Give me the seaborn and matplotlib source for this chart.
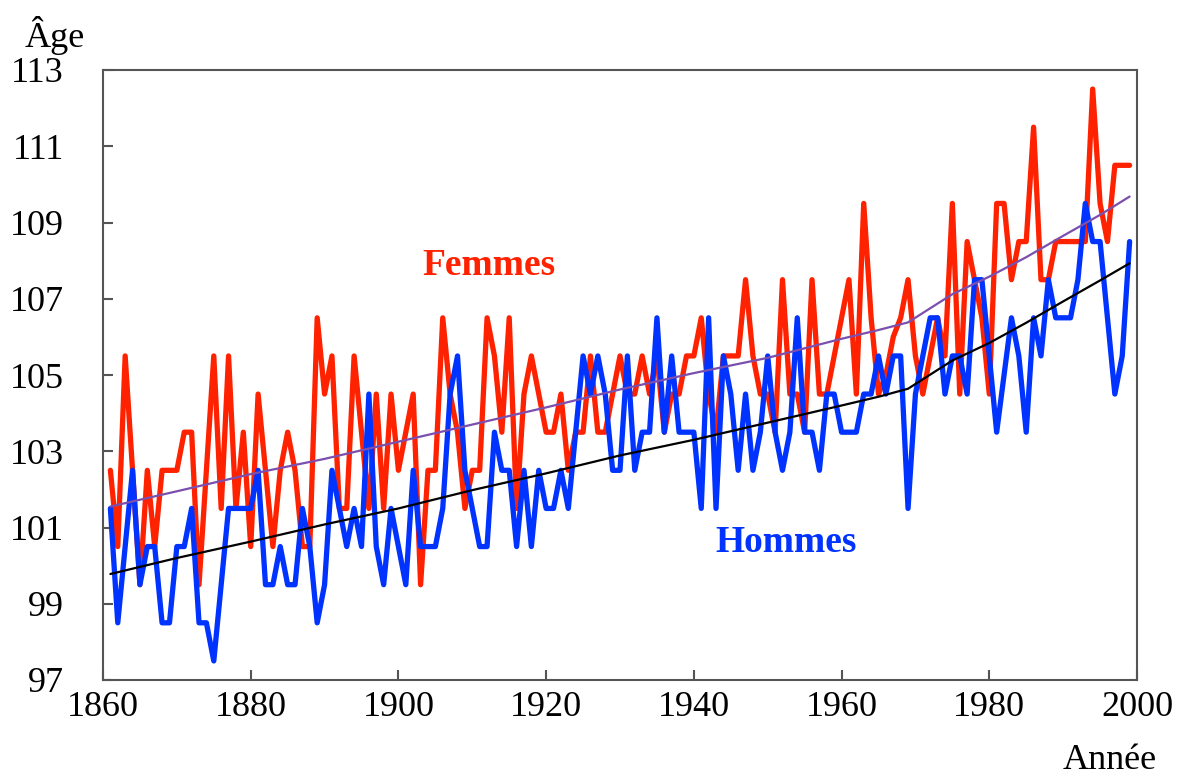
import matplotlib
matplotlib.use("Agg")
import matplotlib.pyplot as plt
import seaborn as sns

# ---------------- data ----------------
years = list(range(1861, 2000))

femmes = [
    102.5, 100.5, 105.5, 102.5, 99.5, 102.5, 100.5, 102.5, 102.5, 102.5,   # 1861-1870
    103.5, 103.5, 99.5, 102.5, 105.5, 101.5, 105.5, 101.5, 103.5, 100.5,   # 1871-1880
    104.5, 102.5, 100.5, 102.5, 103.5, 102.5, 100.5, 100.5, 106.5, 104.5,  # 1881-1890
    105.5, 101.5, 101.5, 105.5, 103.5, 101.5, 104.5, 101.5, 104.5, 102.5,  # 1891-1900
    103.5, 104.5, 99.5, 102.5, 102.5, 106.5, 104.5, 103.5, 101.5, 102.5,   # 1901-1910
    102.5, 106.5, 105.5, 103.5, 106.5, 101.5, 104.5, 105.5, 104.5, 103.5,  # 1911-1920
    103.5, 104.5, 102.5, 103.5, 103.5, 105.5, 103.5, 103.5, 104.5, 105.5,  # 1921-1930
    104.5, 104.5, 105.5, 104.5, 105.5, 103.5, 104.5, 104.5, 105.5, 105.5,  # 1931-1940
    106.5, 104.5, 103.5, 105.5, 105.5, 105.5, 107.5, 105.5, 104.5, 104.5,  # 1941-1950
    103.5, 107.5, 104.5, 104.5, 103.5, 107.5, 104.5, 104.5, 105.5, 106.5,  # 1951-1960
    107.5, 104.5, 109.5, 106.5, 104.5, 105.0, 106.0, 106.5, 107.5, 105.5,  # 1961-1970
    104.5, 105.5, 106.5, 105.5, 109.5, 104.5, 108.5, 107.5, 106.5, 104.5,  # 1971-1980
    109.5, 109.5, 107.5, 108.5, 108.5, 111.5, 107.5, 107.5, 108.5, 108.5,  # 1981-1990
    108.5, 108.5, 108.5, 112.5, 109.5, 108.5, 110.5, 110.5, 110.5,         # 1991-1999
]

hommes = [
    101.5, 98.5, 100.5, 102.5, 99.5, 100.5, 100.5, 98.5, 98.5, 100.5,      # 1861-1870
    100.5, 101.5, 98.5, 98.5, 97.5, 99.5, 101.5, 101.5, 101.5, 101.5,      # 1871-1880
    102.5, 99.5, 99.5, 100.5, 99.5, 99.5, 101.5, 100.5, 98.5, 99.5,        # 1881-1890
    102.5, 101.5, 100.5, 101.5, 100.5, 104.5, 100.5, 99.5, 101.5, 100.5,   # 1891-1900
    99.5, 102.5, 100.5, 100.5, 100.5, 101.5, 104.5, 105.5, 102.5, 101.5,   # 1901-1910
    100.5, 100.5, 103.5, 102.5, 102.5, 100.5, 102.5, 100.5, 102.5, 101.5,  # 1911-1920
    101.5, 102.5, 101.5, 103.5, 105.5, 104.5, 105.5, 104.5, 102.5, 102.5,  # 1921-1930
    105.5, 102.5, 103.5, 103.5, 106.5, 103.5, 105.5, 103.5, 103.5, 103.5,  # 1931-1940
    101.5, 106.5, 101.5, 105.5, 104.5, 102.5, 104.5, 102.5, 103.5, 105.5,  # 1941-1950
    103.5, 102.5, 103.5, 106.5, 103.5, 103.5, 102.5, 104.5, 104.5, 103.5,  # 1951-1960
    103.5, 103.5, 104.5, 104.5, 105.5, 104.5, 105.5, 105.5, 101.5, 104.5,  # 1961-1970
    105.5, 106.5, 106.5, 104.5, 105.5, 105.5, 104.5, 107.5, 107.5, 105.5,  # 1971-1980
    103.5, 105.0, 106.5, 105.5, 103.5, 106.5, 105.5, 107.5, 106.5, 106.5,  # 1981-1990
    106.5, 107.5, 109.5, 108.5, 108.5, 106.5, 104.5, 105.5, 108.5,         # 1991-1999
]

trend_years = [1861, 1870, 1880, 1890, 1900, 1910, 1920, 1930, 1940, 1950,
               1960, 1965, 1969, 1975, 1980, 1985, 1990, 1995, 1999]
femmes_trend = [101.55, 101.95, 102.40, 102.80, 103.25, 103.70, 104.15, 104.62, 105.05, 105.45,
                105.95, 106.18, 106.38, 107.12, 107.58, 108.09, 108.65, 109.20, 109.68]
hommes_trend = [99.78, 100.20, 100.63, 101.08, 101.50, 101.98, 102.42, 102.89, 103.30, 103.75,
                104.20, 104.43, 104.64, 105.38, 105.84, 106.37, 106.93, 107.48, 107.93]

x_ticks = [1860, 1880, 1900, 1920, 1940, 1960, 1980, 2000]
y_ticks = [97, 99, 101, 103, 105, 107, 109, 111, 113]

RED = "#FF2200"
BLUE = "#0033FF"
PURPLE = "#7B4FAE"
SPINE = "#555555"

# ---------------- style ----------------
sns.set_style("white")
plt.rcParams["font.family"] = ["Liberation Serif", "DejaVu Serif"]
plt.rcParams["text.color"] = "black"

W, H = 1184, 780
fig = plt.figure(figsize=(W / 100, H / 100), dpi=100)
ax = fig.add_axes([103 / W, 1 - 680 / H, (1137 - 103) / W, (680 - 70) / H])

sns.lineplot(x=years, y=femmes, color=RED, linewidth=3.8, ax=ax, zorder=2)
sns.lineplot(x=years, y=hommes, color=BLUE, linewidth=3.8, ax=ax, zorder=3)
sns.lineplot(x=trend_years, y=femmes_trend, color=PURPLE, linewidth=1.6, ax=ax, zorder=4)
sns.lineplot(x=trend_years, y=hommes_trend, color="black", linewidth=1.6, ax=ax, zorder=5)

ax.set_xlim(1860, 2000)
ax.set_ylim(97, 113)
ax.set_xticks(x_ticks)
ax.set_yticks(y_ticks)
ax.set_xlabel("")
ax.set_ylabel("")

for s in ax.spines.values():
    s.set_visible(True)
    s.set_color(SPINE)
    s.set_linewidth(1.5)

ax.tick_params(axis="y", direction="in", length=7, width=1.5, color=SPINE,
               labelcolor="black", labelsize=26, pad=28, left=True)
ax.tick_params(axis="x", direction="in", length=7, width=1.5, color=SPINE,
               labelcolor="black", labelsize=26, pad=8, bottom=True)

ax.text(1912.3, 107.62, "Femmes", color=RED, fontsize=27, fontweight="bold",
        ha="center", va="baseline")
ax.text(1952.5, 100.35, "Hommes", color=BLUE, fontsize=27, fontweight="bold",
        ha="center", va="baseline")

fig.text(25 / W, 1 - 47 / H, "Âge", fontsize=26, color="black", ha="left", va="baseline")
fig.text(1063 / W, 11 / H, "Année", fontsize=26, color="black", ha="left", va="baseline")

fig.savefig("out.png", dpi=100)
